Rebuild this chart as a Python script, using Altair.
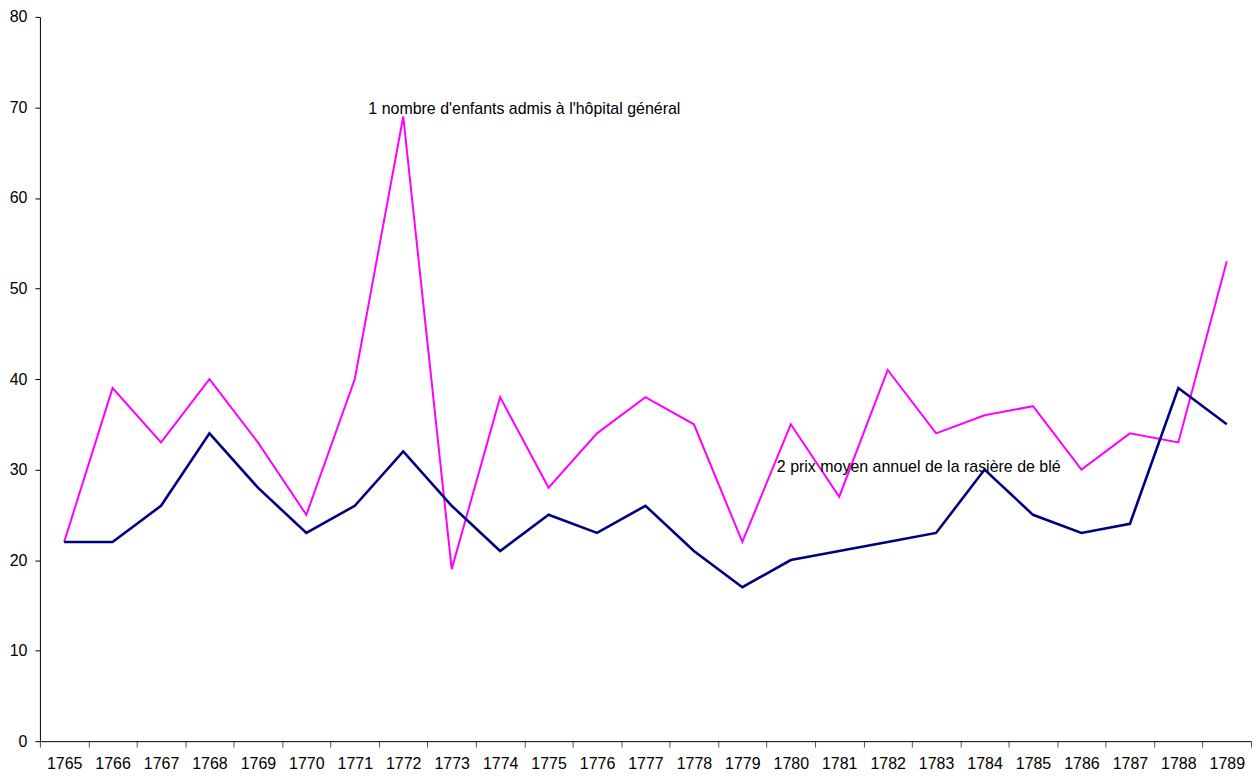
import altair as alt
import pandas as pd

years = [str(y) for y in range(1765, 1790)]
enfants = [22, 39, 33, 40, 33, 25, 40, 69, 19, 38, 28, 34, 38, 35, 22, 35, 27, 41, 34, 36, 37, 30, 34, 33, 53]
prix = [22, 22, 26, 34, 28, 23, 26, 32, 26, 21, 25, 23, 26, 21, 17, 20, 21, 22, 23, 30, 25, 23, 24, 39, 35]

label_texts = ["1 nombre d'enfants admis à l'hôpital général", "2 prix moyen annuel de la rasière de blé"]
label_years = ["1772", "1780"]
label_values = [70, 30]

FONT = "Liberation Sans"

df = pd.DataFrame({"year": years, "enfants": enfants, "prix": prix})
ann = pd.DataFrame({"year": label_years, "value": label_values, "text": label_texts})

x_enc = alt.X("year:O", scale=alt.Scale(domain=years, paddingInner=0, paddingOuter=0),
              axis=alt.Axis(title=None, labelAngle=0, tickBand="extent", labelFont=FONT,
                            labelFontSize=16, labelColor="black", domainColor="black",
                            tickColor="#555555", tickSize=6, labelPadding=8))
y_scale = alt.Scale(domain=[0, 80], nice=False)
y_axis = alt.Axis(title=None, values=list(range(0, 81, 10)), grid=False, labelFont=FONT,
                  labelFontSize=16, labelColor="black", domainColor="black",
                  tickColor="black", tickSize=5, labelPadding=8)

base = alt.Chart(df)
pink = base.mark_line(color="#FF00FF", strokeWidth=2).encode(
    x=x_enc, y=alt.Y("enfants:Q", scale=y_scale, axis=y_axis))
navy = base.mark_line(color="#000080", strokeWidth=2.6).encode(
    x=x_enc, y=alt.Y("prix:Q", scale=y_scale))

t1 = alt.Chart(ann.iloc[[0]]).mark_text(align="left", baseline="middle", font=FONT,
                                         fontSize=16, color="black", dx=-35, dy=2).encode(
    x=alt.X("year:O"), y=alt.Y("value:Q"), text="text:N")
t2 = alt.Chart(ann.iloc[[1]]).mark_text(align="left", baseline="middle", font=FONT,
                                         fontSize=16, color="black", dx=-14, dy=-3).encode(
    x=alt.X("year:O"), y=alt.Y("value:Q"), text="text:N")

chart = alt.layer(pink, navy, t1, t2).properties(
    width=1214, height=726,
    padding={"left": 1, "top": 0, "right": 0, "bottom": 0},
    background="white",
).configure_view(stroke=None)

chart.save("out.html", embed_options={"renderer": "svg", "actions": False})
